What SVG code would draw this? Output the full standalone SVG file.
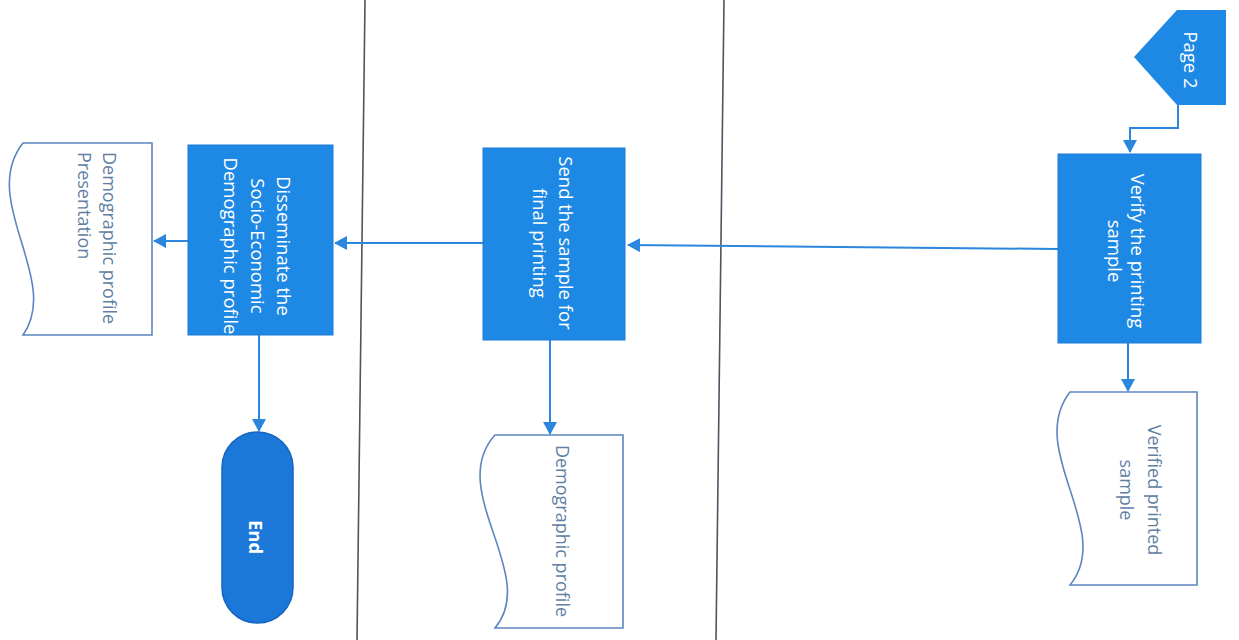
<svg xmlns="http://www.w3.org/2000/svg" width="1239" height="640" viewBox="0 0 1239 640">
<style>
.box{fill:#1e88e5;stroke:#1a7bd6;stroke-width:1}
.doc{fill:#ffffff;stroke:#5b86bf;stroke-width:1.6}
.lane{stroke:#4d5560;stroke-width:1.6;fill:none}
.conn{stroke:#2b86dd;stroke-width:2;fill:none}
.wt{font-family:"Open Sans","Noto Sans",sans-serif;font-size:18.5px;fill:#ffffff;dominant-baseline:central}
.dt{font-family:"Open Sans","Noto Sans",sans-serif;font-size:18px;fill:#5f7fa3;dominant-baseline:central}
</style>
<defs>
<marker id="ah" markerWidth="14" markerHeight="14" refX="12" refY="7" orient="auto" markerUnits="userSpaceOnUse">
<path d="M0,0 L13,7 L0,14 Z" fill="#2b86dd"/>
</marker>
</defs>
<rect width="1239" height="640" fill="#ffffff"/>
<g id="lanes">
<line class="lane" x1="365" y1="0" x2="357" y2="640"/>
<line class="lane" x1="724" y1="0" x2="716" y2="640"/>
</g>
<g id="connectors">
<polyline class="conn" points="1178,105 1178,128 1130,128 1130,152" marker-end="url(#ah)"/>
<line class="conn" x1="1058" y1="249" x2="628" y2="245" marker-end="url(#ah)"/>
<line class="conn" x1="1128" y1="343" x2="1128" y2="391" marker-end="url(#ah)"/>
<line class="conn" x1="483" y1="243" x2="335" y2="243" marker-end="url(#ah)"/>
<line class="conn" x1="550" y1="340" x2="550" y2="434" marker-end="url(#ah)"/>
<line class="conn" x1="188" y1="241" x2="154" y2="241" marker-end="url(#ah)"/>
<line class="conn" x1="259" y1="335" x2="259" y2="431" marker-end="url(#ah)"/>
</g>
<g id="page2">
<polygon points="1177,10 1226,10 1226,105 1177,105 1134,57" fill="#1e88e5"/>
<text class="wt" transform="translate(1191,60) rotate(90)" text-anchor="middle" font-size="18.5">Page 2</text>
</g>
<g id="verify">
<rect class="box" x="1058" y="154" width="143" height="189"/>
<g transform="translate(1127,251) rotate(90)">
<text class="wt" x="0" y="-11.5" text-anchor="middle">Verify the printing</text>
<text class="wt" x="0" y="11.5" text-anchor="middle">sample</text>
</g>
</g>
<g id="verified-doc">
<path class="doc" d="M1070,392 L1197,392 L1197,585 L1070,585 C1115,530 1025,450 1070,392 Z"/>
<g transform="translate(1141,490) rotate(90)">
<text class="dt" x="0" y="-14" text-anchor="middle">Verified printed</text>
<text class="dt" x="0" y="14" text-anchor="middle">sample</text>
</g>
</g>
<g id="send">
<rect class="box" x="483" y="148" width="142" height="192"/>
<g transform="translate(553,243) rotate(90)">
<text class="wt" x="0" y="-13" text-anchor="middle">Send the sample for</text>
<text class="wt" x="0" y="13" text-anchor="middle">final printing</text>
</g>
</g>
<g id="demo-doc">
<path class="doc" d="M495,435 L623,435 L623,628 L495,628 C540,575 445,490 495,435 Z"/>
<text class="dt" transform="translate(563,531) rotate(90)" text-anchor="middle">Demographic profile</text>
</g>
<g id="disseminate">
<rect class="box" x="188" y="145" width="145" height="190"/>
<g transform="translate(258,246) rotate(90)">
<text class="wt" x="0" y="-26.5" text-anchor="middle" font-size="17.5">Disseminate the</text>
<text class="wt" x="0" y="0" text-anchor="middle" font-size="17.5">Socio-Economic</text>
<text class="wt" x="0" y="26.5" text-anchor="middle" font-size="17.5">Demographic profile</text>
</g>
</g>
<g id="presentation-doc">
<path class="doc" d="M23,143 L152,143 L152,335 L23,335 C62,280 -22,200 23,143 Z"/>
<g transform="translate(97.5,152) rotate(90)">
<text class="dt" x="0" y="-12.5">Demographic profile</text>
<text class="dt" x="0" y="12.5">Presentation</text>
</g>
</g>
<g id="end">
<rect x="222" y="432" width="71" height="191" rx="35.5" ry="35.5" fill="#1b78d8" stroke="#1565c0" stroke-width="1.5"/>
<text class="wt" transform="translate(256,537) rotate(90)" text-anchor="middle" font-weight="bold" font-size="17">End</text>
</g>
</svg>
